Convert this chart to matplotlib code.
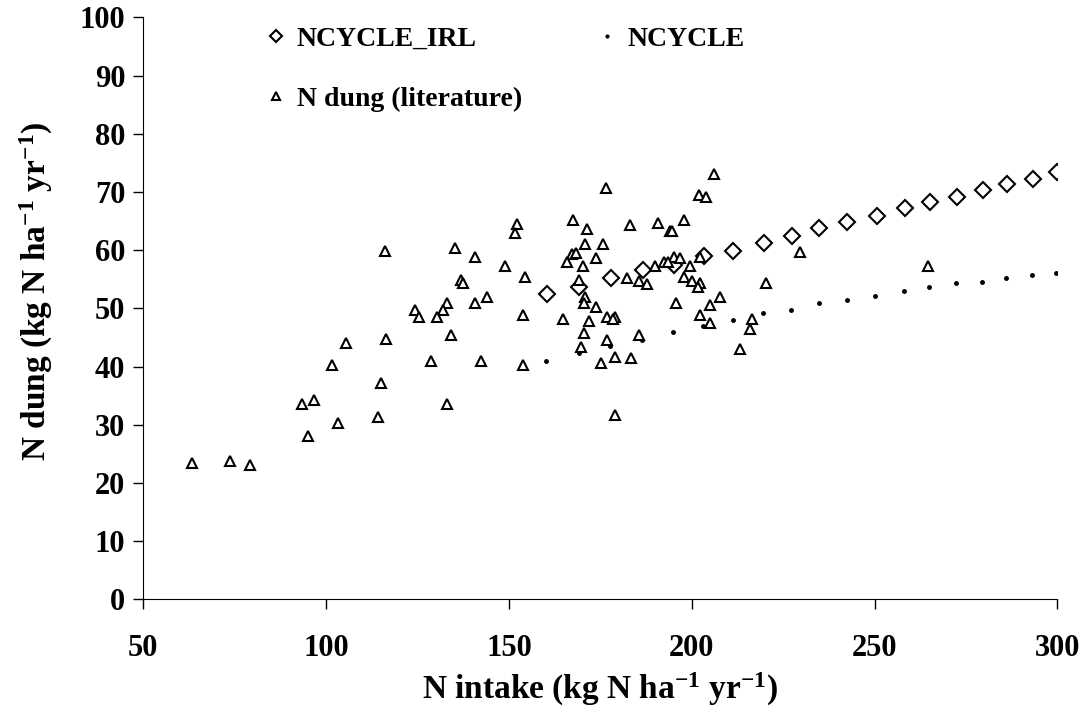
import matplotlib
matplotlib.use("Agg")
import matplotlib.pyplot as plt

plt.rcParams['font.family'] = ['Liberation Serif', 'DejaVu Serif']
plt.rcParams['font.weight'] = 'bold'
plt.rcParams['mathtext.fontset'] = 'custom'
plt.rcParams['mathtext.rm'] = 'Liberation Serif:bold'
plt.rcParams['mathtext.bf'] = 'Liberation Serif:bold'
plt.rcParams['mathtext.it'] = 'Liberation Serif:bold'

# NCYCLE_IRL (diamonds)
irl_x = [160.5, 169.2, 177.8, 186.8, 195.2, 203.4, 211.4, 219.7, 227.5, 234.9,
         242.6, 250.6, 258.3, 265.1, 272.6, 279.7, 286.3, 293.4, 300.0]
irl_y = [52.5, 53.7, 55.2, 56.6, 57.5, 59.0, 59.9, 61.3, 62.4, 63.8,
         64.8, 65.8, 67.2, 68.2, 69.2, 70.3, 71.3, 72.3, 73.4]

# NCYCLE (dots)
nc_x = [160.2, 169.1, 177.6, 186.5, 194.8, 203.0, 211.2, 219.4, 227.2, 234.8,
        242.6, 250.2, 258.0, 265.0, 272.3, 279.4, 285.9, 293.0, 299.7]
nc_y = [40.9, 42.3, 43.6, 44.6, 46.0, 47.0, 48.0, 49.2, 49.8, 50.9,
        51.5, 52.2, 52.9, 53.6, 54.3, 54.6, 55.3, 55.7, 56.0]

# N dung from literature (triangles)
lit_x = [116.1, 105.5, 116.3, 101.7, 114.9, 93.4, 96.7, 103.3, 114.3, 94.9,
         63.3, 73.7, 79.3,
         176.6, 152.2, 151.6, 167.4, 171.4, 170.9, 175.8, 167.2, 168.3, 166.0,
         173.7, 170.3, 135.3, 140.7, 149.0, 154.4, 136.8, 137.3, 169.1, 170.9,
         170.4, 173.7, 176.9, 172.0, 164.9, 153.9, 143.9, 140.7, 133.0, 132.0,
         124.2, 125.3, 130.3, 134.1, 170.4, 176.9, 169.6, 128.6, 142.4, 153.9,
         175.3, 133.0,
         206.0, 202.0, 203.8, 183.0, 190.7, 197.8, 194.1, 194.5, 202.2, 195.2,
         196.8, 192.4, 193.6, 190.0, 199.6, 182.4, 185.6, 187.8, 197.8, 200.0,
         202.3, 201.6, 229.6, 220.3, 207.7, 205.1, 195.7, 202.3, 205.1, 216.5,
         215.9, 213.2, 179.0, 178.5, 185.7, 179.0, 183.5, 179.1, 264.7]
lit_y = [59.9, 44.0, 44.8, 40.3, 37.2, 33.5, 34.2, 30.3, 31.4, 28.0,
         23.4, 23.8, 23.1,
         70.6, 64.5, 63.0, 65.2, 63.6, 61.0, 61.0, 59.4, 59.5, 57.9,
         58.6, 57.2, 60.3, 58.9, 57.2, 55.4, 54.8, 54.4, 54.8, 52.0,
         51.0, 50.3, 48.5, 47.9, 48.2, 48.9, 52.0, 51.0, 51.0, 49.8,
         49.8, 48.5, 48.5, 45.5, 45.8, 44.6, 43.4, 41.0, 41.0, 40.3,
         40.6, 33.5,
         73.0, 69.5, 69.1, 64.4, 64.7, 65.1, 63.3, 63.3, 58.9, 58.9,
         58.6, 57.9, 57.9, 57.2, 57.2, 55.2, 54.7, 54.1, 55.4, 54.7,
         54.4, 53.7, 59.6, 54.4, 52.0, 50.6, 51.0, 48.9, 47.5, 48.2,
         46.4, 43.0, 48.5, 48.2, 45.5, 41.7, 41.5, 31.7, 57.2]

fig = plt.figure(figsize=(10.86, 7.11), dpi=100)
ax = fig.add_axes([0.132, 0.157, 0.8416, 0.8186])

h_irl, = ax.plot(irl_x, irl_y, linestyle='none', marker='D', markersize=8,
                 markerfacecolor='white', markeredgecolor='black', markeredgewidth=1.5,
                 label='NCYCLE_IRL')
h_nc, = ax.plot(nc_x, nc_y, linestyle='none', marker='o', markersize=2.5,
                color='black', label='NCYCLE')
h_lit, = ax.plot(lit_x, lit_y, linestyle='none', marker='^', markersize=7,
                 markerfacecolor='white', markeredgecolor='black', markeredgewidth=1.5,
                 label='N dung (literature)')

ax.set_xlim(50, 300)
ax.set_ylim(0, 100)
ax.set_xticks(range(50, 301, 50))
ax.set_yticks(range(0, 101, 10))
ax.tick_params(axis='both', labelsize=22, direction='out', length=7, width=1)
ax.tick_params(axis='x', pad=18)
ax.tick_params(axis='y', pad=6)
ax.spines['top'].set_visible(False)
ax.spines['right'].set_visible(False)

ax.set_xlabel(r'N intake (kg N ha$^{-1}$ yr$^{-1}$)', fontsize=24, fontweight='bold', labelpad=6)
ax.set_ylabel(r'N dung (kg N ha$^{-1}$ yr$^{-1}$)', fontsize=24, fontweight='bold')
ax.yaxis.set_label_coords(-0.097, 0.53)

leg = ax.legend(handles=[h_irl, h_lit, h_nc], ncol=2, loc='upper left',
                bbox_to_anchor=(0.11, 1.027), frameon=False, fontsize=20,
                handlelength=0.5, handletextpad=0.5, columnspacing=2.8,
                labelspacing=1.23, markerscale=0.8)

fig.savefig('out.png', dpi=100)
